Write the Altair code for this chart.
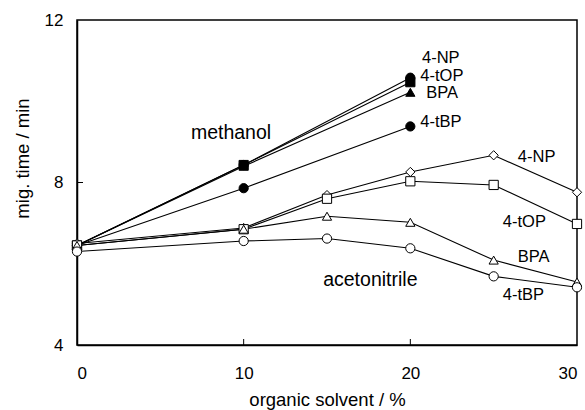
import altair as alt
import pandas as pd

# ---- data ----
x_meth = [0, 10, 20]
meth_4NP = [6.45, 8.43, 10.58]
meth_4tOP = [6.45, 8.43, 10.47]
meth_BPA = [6.45, 8.40, 10.22]
meth_4tBP = [6.45, 7.86, 9.38]

x_acn = [0, 10, 15, 20, 25, 30]
acn_4NP = [6.50, 6.88, 7.69, 8.26, 8.67, 7.76]
acn_4tOP = [6.45, 6.85, 7.60, 8.03, 7.94, 6.98]
acn_BPA = [6.45, 6.85, 7.17, 7.02, 6.09, 5.55]
acn_4tBP = [6.30, 6.56, 6.62, 6.38, 5.69, 5.42]

compounds = ["4-NP", "4-tOP", "BPA", "4-tBP"]
shapes = ["diamond", "square", "triangle-up", "circle"]
meth_shapes = ["circle", "square", "triangle-up", "circle"]

x_ticks = [10, 20]
y_ticks = [8]

# labels: text, x, y
solvent_labels = ["methanol", "acetonitrile"]
solvent_lx = [9.24, 17.6]
solvent_ly = [9.22, 5.6]

cmp_labels = ["4-NP", "4-tOP", "BPA", "4-tBP", "4-NP", "4-tOP", "BPA", "4-tBP"]
cmp_lx = [20.7, 20.6, 20.95, 20.6, 26.45, 25.55, 26.45, 25.55]
cmp_ly = [11.07, 10.62, 10.20, 9.49, 8.63, 7.02, 6.16, 5.23]

# ---- build tables ----
rows = []
for c, sh, ys in zip(compounds, meth_shapes, [meth_4NP, meth_4tOP, meth_BPA, meth_4tBP]):
    for x, y in zip(x_meth, ys):
        rows.append({"x": x, "y": y, "solvent": "methanol", "cmp": c, "shape": sh,
                     "key": "methanol " + c})
for c, sh, ys in zip(compounds, shapes, [acn_4NP, acn_4tOP, acn_BPA, acn_4tBP]):
    for x, y in zip(x_acn, ys):
        rows.append({"x": x, "y": y, "solvent": "acetonitrile", "cmp": c, "shape": sh,
                     "key": "acetonitrile " + c})
df = pd.DataFrame(rows)

FONT = "Liberation Sans"
xs = alt.Scale(domain=[0, 30], nice=False, zero=False)
ys = alt.Scale(domain=[4, 12], nice=False, zero=False)

X = alt.X("x:Q", scale=xs, title="organic solvent / %",
          axis=alt.Axis(values=[0, 10, 20, 30], tickSize=0, labelPadding=20,
                        titlePadding=9, grid=False))
Y = alt.Y("y:Q", scale=ys, title="mig. time / min",
          axis=alt.Axis(values=[4, 8, 12], tickSize=0, labelPadding=14,
                        titleX=-55, titleY=138, titleAlign="center",
                        titleBaseline="middle", titleAngle=270, grid=False))

lines = alt.Chart(df).mark_line(color="black", strokeWidth=1.1).encode(
    x=X, y=Y, detail="key:N")

points = alt.Chart(df).mark_point(filled=True, stroke="black", strokeWidth=1, size=85,
                                  opacity=1).encode(
    x="x:Q", y="y:Q",
    shape=alt.Shape("shape:N", scale=None),
    fill=alt.Fill("solvent:N", scale=alt.Scale(domain=["methanol", "acetonitrile"],
                                                range=["black", "white"]), legend=None),
)

sol_df = pd.DataFrame({"t": solvent_labels, "x": solvent_lx, "y": solvent_ly})
sol_text = alt.Chart(sol_df).mark_text(font=FONT, fontSize=19.5, align="center",
                                       baseline="middle", color="black").encode(
    x="x:Q", y="y:Q", text="t:N")

cmp_df = pd.DataFrame({"t": cmp_labels, "x": cmp_lx, "y": cmp_ly})
cmp_text = alt.Chart(cmp_df).mark_text(font=FONT, fontSize=16.5, align="left",
                                       baseline="middle", color="black").encode(
    x="x:Q", y="y:Q", text="t:N")

xt_df = pd.DataFrame({"x": x_ticks})
xt = alt.Chart(xt_df).mark_rule(color="black", strokeWidth=1).encode(
    x="x:Q", y=alt.value(325), y2=alt.value(319))
yt_df = pd.DataFrame({"y": y_ticks})
yt = alt.Chart(yt_df).mark_rule(color="black", strokeWidth=1).encode(
    y="y:Q", x=alt.value(0), x2=alt.value(6))

chart = alt.layer(lines, points, sol_text, cmp_text, xt, yt).properties(
    width=500, height=325,
    autosize=alt.AutoSizeParams(type="none"),
    padding={"left": 77, "top": 20, "right": 8, "bottom": 65},
    background="white",
).configure_view(stroke="black", strokeWidth=1.5).configure_axis(
    labelFont=FONT, titleFont=FONT, labelFontSize=17, titleFontSize=18.5,
    labelColor="black", titleColor="black", titleFontWeight="normal",
    domainColor="black", domainWidth=1.5,
)

chart.save("out.html", embed_options={"renderer": "svg", "actions": False})
